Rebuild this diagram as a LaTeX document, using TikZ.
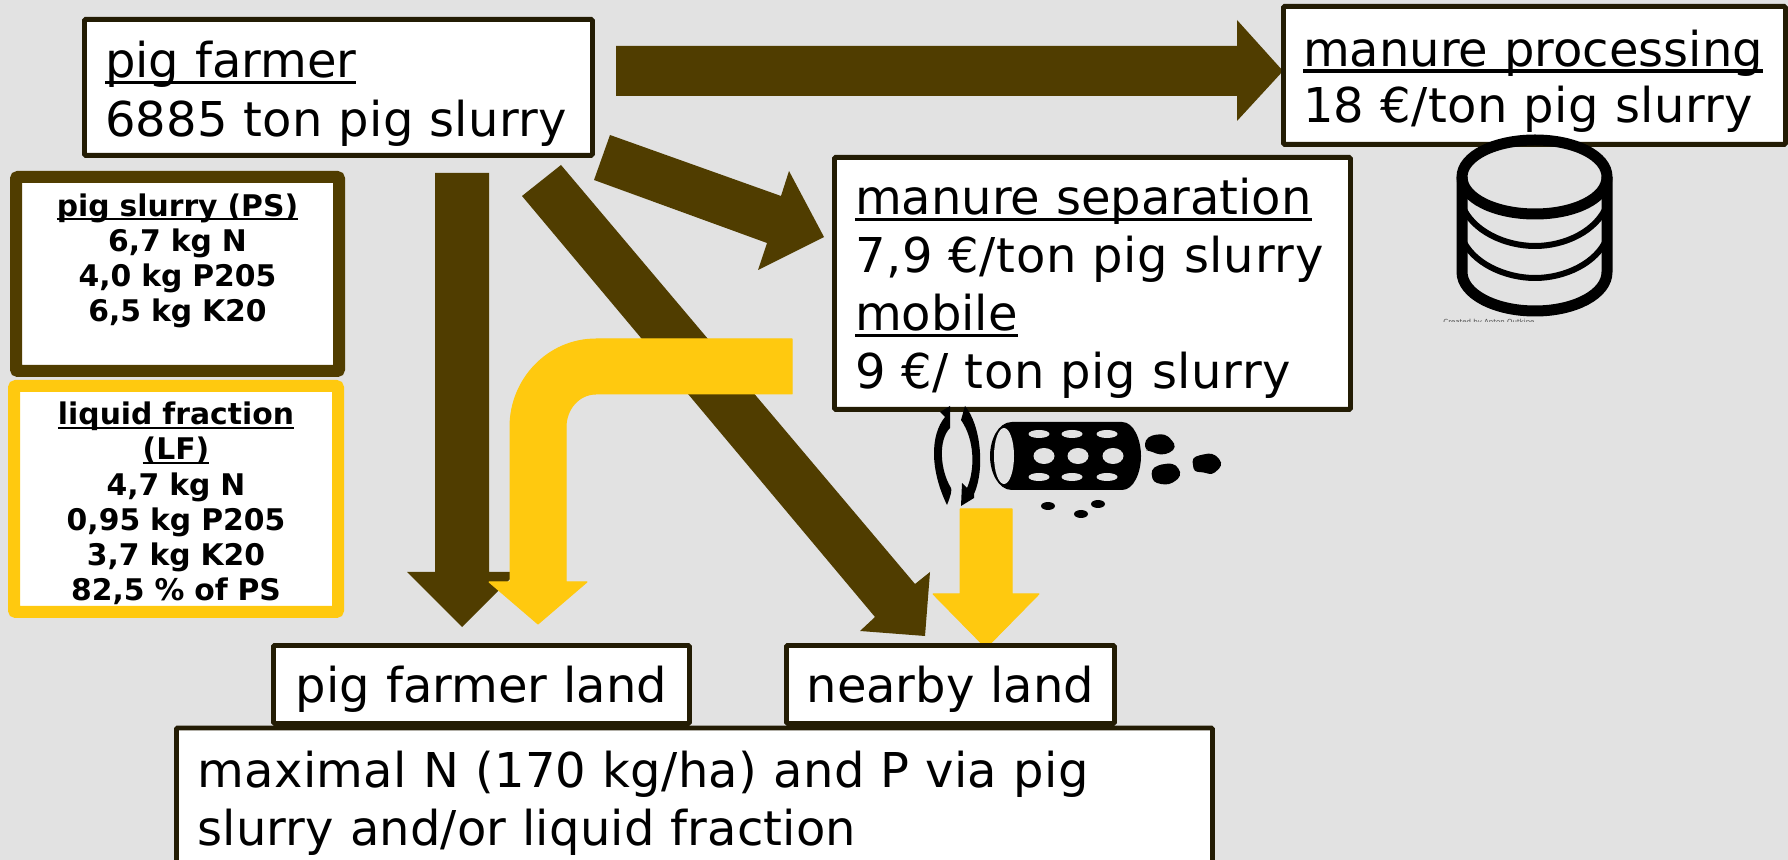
\documentclass[tikz,border=0pt]{standalone}
\usepackage{fontspec}
\setmainfont{DejaVu Sans}
\definecolor{bgc}{HTML}{E2E2E2}
\definecolor{brownc}{HTML}{503D00}
\definecolor{yellowc}{HTML}{FFC90F}
\definecolor{edgec}{HTML}{231C04}
\newcommand{\ulx}[1]{\leavevmode\setbox0\hbox{#1}\rlap{\rule[-0.13em]{\wd0}{0.065em}}\box0 }
\newcommand{\topx}[1]{\rule{0pt}{\dimexpr 18.2pt+#1\relax}}
\newcommand{\toplg}[1]{\rule{0pt}{\dimexpr 11.4pt+#1\relax}}
\newcommand{\lsp}[2]{{\addfontfeature{LetterSpace=#1}#2}}
\tikzset{
  mainbox/.style={draw=edgec,fill=white,line width=2.4pt,rounded corners=0.6pt,anchor=north west,inner sep=0pt,align=left,
    font=\fontsize{24}{29.5}\selectfont},
  legend/.style={fill=white,line width=6pt,rounded corners=1pt,anchor=north west,inner sep=0pt,align=center,
    font=\bfseries\fontsize{14.9}{17.6}\selectfont},
  brownarrow/.style={fill=brownc},
  yellowarrow/.style={fill=yellowc,draw=yellowc,line width=0.5pt,line join=round},
  iconline/.style={draw=black,line width=5.5pt},
  iconthin/.style={draw=black,line width=3pt},
  hole/.style={fill=bgc}
}
\begin{document}
\begin{tikzpicture}[x=0.5pt,y=-0.5pt]
\useasboundingbox (0,0) rectangle (1788,860);
\clip (0,0) rectangle (1788,860);
\fill[bgc] (0,0) rectangle (1788,860);

% brown arrows
\fill[brownarrow] (616,46)--(1237,46)--(1237,20)--(1283,71)--(1237,121)--(1237,96)--(616,96)--cycle;
\fill[brownarrow] (610,135)--(781,196)--(789,171)--(824,237)--(758,270)--(767,243)--(594,180)--cycle;
\fill[brownarrow] (435,173)--(489,173)--(489,572)--(517,572)--(462,627)--(407,572)--(435,572)--cycle;
\fill[brownarrow] (522,196)--(561,165)--(915,584)--(930,572)--(925,636)--(860,631)--(875,617)--cycle;
% yellow arrows
\fill[yellowarrow] (792,339)--(596,339) .. controls (548,339) and (510,379) .. (510,427)--(510,582)--(489,582)--(538,624)--(587,582)--(566,582)--(566,427)
  .. controls (566,409) and (579,394) .. (596,394)--(792,394)--cycle;
\fill[yellowarrow] (960,509)--(1012,509)--(1012,594)--(1039,594)--(986,648)--(933,594)--(960,594)--cycle;

% boxes
\node[mainbox,minimum width=254pt,minimum height=68pt,text width=233.4pt] (farmer) at (82,17) {\topx{6.8pt}\ulx{pig farmer}\\\lsp{0.5}{6885 ton pig slurry}};
\node[mainbox,minimum width=251pt,minimum height=69pt,text width=231.4pt,font=\fontsize{24}{28}\selectfont] (processing) at (1281,4) {\topx{5.7pt}\ulx{manure processing}\\\lsp{1}{18 €/ton pig slurry}};
\node[mainbox,minimum width=258pt,minimum height=126pt,text width=237.4pt,font=\fontsize{24}{29}\selectfont] (separation) at (832,155) {\topx{5.2pt}\ulx{manure separation}\\\lsp{1.4}{7,9 €/ton pig slurry}\\\ulx{mobile}\\\lsp{1.3}{9 €/ ton pig slurry}};
\node[mainbox,minimum width=208pt,minimum height=39pt,text width=190pt,align=center] (ownland) at (271,643) {\topx{4.6pt}pig farmer land};
\node[mainbox,minimum width=164pt,minimum height=39pt,text width=156pt,align=center] (nearby) at (784,643) {\topx{4.6pt}nearby land};
\node[mainbox,minimum width=518pt,minimum height=75.4pt,text width=497pt,font=\fontsize{24}{29}\selectfont] (rule) at (174,725.5) {\lsp{0.8}{maximal N (170 kg/ha) and P via pig}\\\lsp{0.35}{slurry and/or liquid fraction}};

% legends
\node[legend,draw=brownc,minimum width=161.5pt,minimum height=97pt,text width=150pt] (pslegend) at (10,171) {\toplg{1.2pt}\ulx{pig slurry (PS)}\\6,7 kg N\\4,0 kg P205\\6,5 kg K20\\\mbox{}};
\node[legend,draw=yellowc,minimum width=162pt,minimum height=113pt,text width=150pt] (lflegend) at (8,380) {\toplg{4.4pt}\ulx{liquid fraction}\\\ulx{(LF)}\\4,7 kg N\\0,95 kg P205\\3,7 kg K20\\82,5 \% of PS};

% storage icon
\draw[iconline] (1462,177) .. controls (1462,156) and (1495,140) .. (1535,140) .. controls (1575,140) and (1607,156) .. (1607,177)
  .. controls (1607,198) and (1575,214) .. (1535,214) .. controls (1495,214) and (1462,198) .. (1462,177) -- cycle;
\draw[iconline] (1462,177)--(1462,272) .. controls (1462,294) and (1495,311) .. (1535,311) .. controls (1575,311) and (1607,294) .. (1607,272)--(1607,177);
\draw[iconthin] (1462,205) .. controls (1472,231) and (1505,246) .. (1535,246) .. controls (1565,246) and (1597,231) .. (1607,205);
\draw[iconthin] (1462,238) .. controls (1472,263) and (1505,278) .. (1535,278) .. controls (1565,278) and (1597,263) .. (1607,238);
\begin{scope}
\clip (1440,318.5) rectangle (1545,322);
\node[anchor=north west,inner sep=0pt,font=\fontsize{3.5}{4}\selectfont,text=black!70] (credit) at (1443,319) {Created by Anton Outkine};
\end{scope}

% screw separator icon
\fill[black] (1012,422)--(1122,422) .. controls (1134,422) and (1141,440) .. (1141,456) .. controls (1141,472) and (1134,490) .. (1122,490)--(1012,490)
  .. controls (998,490) and (990,472) .. (990,456) .. controls (990,440) and (998,422) .. (1012,422)--cycle;
\fill[hole] (1004,456) ellipse [x radius=10,y radius=28];
\foreach \cx in {1039,1072,1107}{
  \fill[hole] (\cx,434) ellipse [x radius=10.5,y radius=4];
  \fill[hole] (\cx,477) ellipse [x radius=10.5,y radius=4];
}
\foreach \cx in {1044,1078,1113}{
  \fill[hole] (\cx,456) ellipse [x radius=10.5,y radius=8];
}
% crumbs
\fill[rounded corners=2pt] (1145,440)--(1152,435)--(1165,434)--(1172,440)--(1176,447)--(1170,453)--(1160,455)--(1150,451)--(1145,450)--cycle;
\fill[rounded corners=2pt] (1151,470)--(1158,465)--(1172,463)--(1179,468)--(1181,476)--(1173,483)--(1165,485)--(1153,482)--cycle;
\fill[rounded corners=2pt] (1192,458)--(1200,455)--(1212,453)--(1220,459)--(1222,466)--(1212,475)--(1203,472)--(1194,472)--cycle;
\fill (1048,506) ellipse [x radius=7,y radius=4];
\fill (1098,504) ellipse [x radius=7,y radius=4];
\fill (1081,514) ellipse [x radius=7,y radius=4];
% rotation arrows
\fill (950,406)--(940,412)--(945,417) .. controls (930,435) and (930,470) .. (947,505) .. controls (951,495) and (952,490) .. (951,488) .. controls (940,470) and (938,440) .. (950,428)--cycle;
\fill (965,406) .. controls (981,425) and (985,470) .. (974,494)--(974,498)--(961,506)--(962,483)--(967,488) .. controls (975,470) and (975,440) .. (961,420)--cycle;
\end{tikzpicture}
\end{document}
